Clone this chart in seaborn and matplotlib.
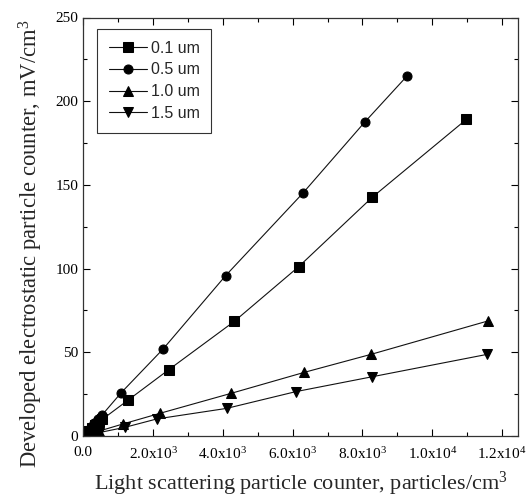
import matplotlib
matplotlib.use("Agg")
import matplotlib.pyplot as plt
import seaborn as sns
from matplotlib.ticker import MultipleLocator, FixedLocator, FixedFormatter

sns.set_style("ticks")
plt.rcParams["font.family"] = ["Liberation Serif", "DejaVu Serif"]
plt.rcParams["mathtext.default"] = "regular"

# light scattering counts (particles/cm3) and electrostatic signal (mV/cm3)
x_01 = [60, 150, 250, 350, 450, 550, 1290, 2450, 4330, 6170, 8280, 10980]
y_01 = [1.2, 2.8, 4.6, 6.4, 8.2, 10.0, 21.5, 39.6, 68.5, 101.1, 142.6, 189.2]

x_05 = [50, 130, 220, 320, 420, 530, 1090, 2290, 4080, 6290, 8060, 9270]
y_05 = [1.3, 3.2, 5.4, 7.7, 10.0, 12.3, 25.9, 52.0, 95.8, 145.0, 187.4, 214.9]

x_10 = [60, 150, 250, 350, 450, 1140, 2190, 4240, 6330, 8250, 11590]
y_10 = [0.5, 1.0, 1.6, 2.2, 2.9, 7.2, 13.5, 25.5, 38.0, 48.8, 68.7]

x_15 = [60, 150, 250, 350, 450, 1200, 2110, 4110, 6090, 8280, 11580]
y_15 = [0.3, 0.7, 1.1, 1.6, 2.0, 5.2, 10.2, 16.5, 26.5, 35.4, 48.8]

series = [
    ("0.1 um", x_01, y_01, "s"),
    ("0.5 um", x_05, y_05, "o"),
    ("1.0 um", x_10, y_10, "^"),
    ("1.5 um", x_15, y_15, "v"),
]

x_tick_vals = [0, 2000, 4000, 6000, 8000, 10000, 12000]
x_tick_labels = ["0.0", "2.0x10$^3$", "4.0x10$^3$", "6.0x10$^3$",
                 "8.0x10$^3$", "1.0x10$^4$", "1.2x10$^4$"]


def main():
    fig = plt.figure(figsize=(5.3, 5.0), dpi=100)
    ax = fig.add_axes([0.157, 0.128, 0.820, 0.837])

    for label, xs, ys, marker in series:
        sns.lineplot(x=xs, y=ys, ax=ax, color="#111111", lw=0.8, marker=marker,
                     markersize=6.5, markeredgecolor="black", markerfacecolor="black",
                     label=label, sort=False)

    ax.set_xlim(0, 12450)
    ax.set_ylim(0, 250)

    ax.xaxis.set_major_locator(FixedLocator(x_tick_vals))
    ax.xaxis.set_major_formatter(FixedFormatter(x_tick_labels))
    ax.xaxis.set_minor_locator(MultipleLocator(1000))
    ax.yaxis.set_major_locator(MultipleLocator(50))
    ax.yaxis.set_minor_locator(MultipleLocator(25))
    ax.tick_params(which="both", direction="in", top=True, right=True,
                   colors="black", labelsize=11)
    ax.tick_params(which="major", length=5, width=0.8)
    ax.tick_params(which="minor", length=3, width=0.8)
    ax.tick_params(axis="x", pad=7)

    for spine in ax.spines.values():
        spine.set_visible(True)
        spine.set_color("#333333")
        spine.set_linewidth(0.9)

    ax.set_xlabel("Light scattering particle counter, particles/cm$^3$", fontsize=16, labelpad=6)
    ax.set_ylabel("Developed electrostatic particle counter, mV/cm$^3$", fontsize=16.3)
    ax.yaxis.set_label_coords(-0.088, 0.46)

    leg = ax.legend(loc="upper left", bbox_to_anchor=(0.032, 0.973), borderaxespad=0,
                    frameon=True, fancybox=False, edgecolor="black", handlelength=2.4,
                    handletextpad=0.2, labelspacing=0.42, borderpad=0.75,
                    prop={"family": ["Liberation Sans"], "size": 11.5})
    leg.get_frame().set_linewidth(0.8)

    fig.savefig("out.png", dpi=100)


if __name__ == "__main__":
    main()
